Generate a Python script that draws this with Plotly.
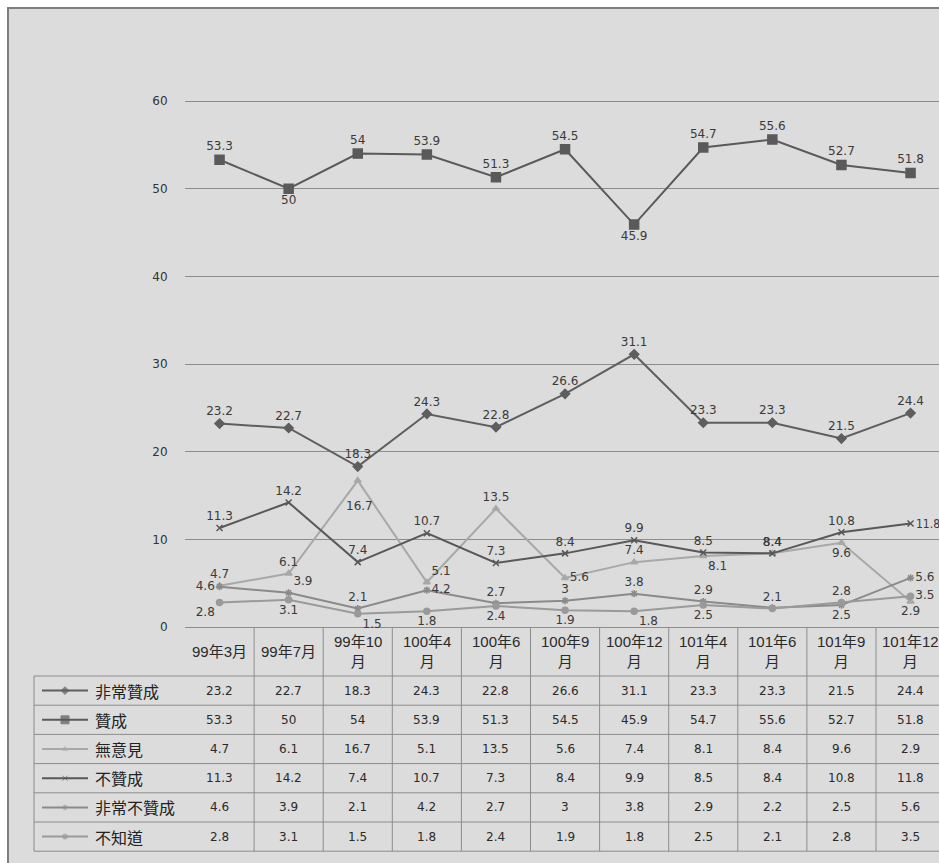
import plotly.graph_objects as go

# ---------------- data ----------------
categories = ["99年3月", "99年7月", "99年10月", "100年4月", "100年6月", "100年9月",
              "100年12月", "101年4月", "101年6月", "101年9月", "101年12月"]
series_names = ["非常贊成", "贊成", "無意見", "不贊成", "非常不贊成", "不知道"]
very_agree = [23.2, 22.7, 18.3, 24.3, 22.8, 26.6, 31.1, 23.3, 23.3, 21.5, 24.4]
agree = [53.3, 50, 54, 53.9, 51.3, 54.5, 45.9, 54.7, 55.6, 52.7, 51.8]
no_opinion = [4.7, 6.1, 16.7, 5.1, 13.5, 5.6, 7.4, 8.1, 8.4, 9.6, 2.9]
disagree = [11.3, 14.2, 7.4, 10.7, 7.3, 8.4, 9.9, 8.5, 8.4, 10.8, 11.8]
very_disagree = [4.6, 3.9, 2.1, 4.2, 2.7, 3, 3.8, 2.9, 2.2, 2.5, 5.6]
dont_know = [2.8, 3.1, 1.5, 1.8, 2.4, 1.9, 1.8, 2.5, 2.1, 2.8, 3.5]
y_ticks = [0, 10, 20, 30, 40, 50, 60]

values = [very_agree, agree, no_opinion, disagree, very_disagree, dont_know]

# ---------------- styles ----------------
W, H = 939, 863
TC, BC, LC = "top center", "bottom center", "middle right"
# "moved": index -> (xanchor, xshift, yshift, font family) for labels placed by annotation
COND = "DejaVu Sans Condensed, DejaVu Sans"
styles = [
    dict(color="#5e5e5e", symbol="diamond", size=7, key=6,
         pos=[TC] * 11, hide=[], moved={}),
    dict(color="#5a5a5a", symbol="square", size=9, key=8,
         pos=[TC, BC, TC, TC, TC, TC, BC, TC, TC, TC, TC], hide=[], moved={}),
    dict(color="#a8a8a8", symbol="triangle-up", size=6, key=5,
         pos=[TC, TC, BC, "top right", TC, LC, TC, "bottom right", TC, BC, BC], hide=[],
         moved={2: ("center", 2, -25, "DejaVu Sans")}),
    dict(color="#585858", symbol="x-thin-open", size=6, key=5,
         pos=[TC] * 10 + [LC], hide=[], moved={10: ("left", 3, 0, COND)}),
    dict(color="#8a8a8a", symbol="asterisk-open", size=6, key=5,
         pos=["middle left", "top right", TC, LC, TC, TC, TC, TC, TC, BC, LC], hide=[8], moved={}),
    dict(color="#9a9a9a", symbol="circle", size=6, key=5,
         pos=["bottom left", BC, "bottom right", BC, BC, BC, "bottom right", BC, TC, TC, LC], hide=[],
         moved={}),
]

# pixel layout
plot_l, plot_r, plot_b = 185, W, 627
col_w = 69.1
px_per_unit = (627 - 101) / 60.0
y_lo, y_hi = -0.2, 60.3
y_top_px = plot_b - (y_hi) * px_per_unit
y_bot_px = plot_b - (y_lo) * px_per_unit
x_hi = -0.5 + (plot_r - plot_l) / col_w

def py(p):
    return 1 - p / H

def pxx(p):
    return p / W

fig = go.Figure()
annotations = []
label_font = dict(family="DejaVu Sans", size=12, color="#3a3a3a")

for name, vals, st in zip(series_names, values, styles):
    texts = ["" if (i in st["hide"] or i in st["moved"]) else f"{v:g}"
             for i, v in enumerate(vals)]
    fig.add_trace(go.Scatter(
        x=categories, y=vals, name=name, mode="lines+markers+text",
        line=dict(color=st["color"], width=2),
        marker=dict(symbol=st["symbol"], size=st["size"], color=st["color"],
                    line=dict(color=st["color"], width=1.5)),
        text=texts, textposition=st["pos"], textfont=label_font,
        cliponaxis=False, showlegend=False, xaxis="x", yaxis="y",
    ))
    for i, (xa, xs, ys, fam) in st["moved"].items():
        annotations.append(dict(xref="x", yref="y", x=categories[i], y=vals[i],
                                text=f"{vals[i]:g}", showarrow=False,
                                xanchor=xa, yanchor="middle", xshift=xs, yshift=ys,
                                font=dict(family=fam, size=12, color="#3a3a3a")))

# ---------------- data table ----------------
header_top, header_bot = 627, 676
row_h = 29.2
row_tops = [header_bot + i * row_h for i in range(len(series_names) + 1)]
table_left = 34
line_col = "#8c8c8c"

shapes = []
# background panel with border
shapes.append(dict(type="rect", xref="paper", yref="paper", layer="below",
                   x0=pxx(8), x1=pxx(W + 10), y0=py(H + 10), y1=py(8),
                   fillcolor="#dcdcdc", line=dict(color="#7f7f7f", width=2)))
# horizontal table lines
for yt in row_tops:
    shapes.append(dict(type="line", xref="paper", yref="paper",
                       x0=pxx(table_left), x1=1.0, y0=py(yt), y1=py(yt),
                       line=dict(color=line_col, width=1)))
# left border
shapes.append(dict(type="line", xref="paper", yref="paper",
                   x0=pxx(table_left), x1=pxx(table_left),
                   y0=py(row_tops[0]), y1=py(row_tops[-1]),
                   line=dict(color=line_col, width=1)))
# column separators
for i in range(1, len(categories) + 1):
    shapes.append(dict(type="line", xref="x", yref="paper",
                       x0=i - 0.5, x1=i - 0.5, y0=py(header_top), y1=py(row_tops[-1]),
                       line=dict(color=line_col, width=1)))

num_font = dict(family="DejaVu Sans, Noto Sans CJK TC", size=12, color="#2a2a2a")

def wrap(label):
    return label if len(label) <= 5 else label[:-1] + "<br>" + label[-1]

for c in categories:
    annotations.append(dict(xref="x", yref="paper", x=c, y=py((header_top + header_bot) / 2),
                            text=wrap(c), showarrow=False, xanchor="center", yanchor="middle",
                            font=dict(family="Liberation Sans, Noto Sans CJK TC", size=15,
                                      color="#2a2a2a")))

for r, (name, vals) in enumerate(zip(series_names, values)):
    yc = (row_tops[r] + row_tops[r + 1]) / 2
    annotations.append(dict(xref="paper", yref="paper", x=pxx(93), y=py(yc), text=name,
                            showarrow=False, xanchor="left", yanchor="middle",
                            font=dict(family="Noto Sans CJK TC", size=16, color="#222222")))
    for c, v in zip(categories, vals):
        annotations.append(dict(xref="x", yref="paper", x=c, y=py(yc), text=f"{v:g}",
                                showarrow=False, xanchor="center", yanchor="middle",
                                font=num_font))
    st = styles[r]
    # legend key on the pixel overlay axes
    fig.add_trace(go.Scatter(
        x=[42, 65, 88], y=[yc, yc, yc], mode="lines+markers",
        line=dict(color=st["color"], width=2),
        marker=dict(symbol=st["symbol"], size=[0, st["key"], 0], color=st["color"],
                    line=dict(color=st["color"], width=1)),
        showlegend=False, hoverinfo="skip", xaxis="x2", yaxis="y2"))

fig.update_layout(
    width=W, height=H, template="none",
    margin=dict(l=0, r=0, t=0, b=0, pad=0),
    paper_bgcolor="white", plot_bgcolor="rgba(0,0,0,0)",
    showlegend=False,
    shapes=shapes, annotations=annotations,
    xaxis=dict(type="category", domain=[plot_l / W, 1], range=[-0.5, x_hi],
               showticklabels=False, showgrid=False, zeroline=False, showline=False,
               ticks="", anchor="y", automargin=False, fixedrange=True),
    yaxis=dict(domain=[py(y_bot_px), py(y_top_px)], range=[y_lo, y_hi],
               tickvals=y_ticks, showgrid=True, gridcolor="#8c8c8c", gridwidth=1,
               zeroline=False, showline=False, ticks="outside", ticklen=14,
               tickcolor="rgba(0,0,0,0)",
               tickfont=dict(family="DejaVu Sans", size=12, color="#333333"),
               anchor="x", automargin=False, fixedrange=True),
    xaxis2=dict(domain=[0, 1], range=[0, W], visible=False, anchor="y2",
                fixedrange=True),
    yaxis2=dict(domain=[0, 1], range=[H, 0], visible=False, anchor="x2",
                fixedrange=True),
)

fig.write_html("out.html")
